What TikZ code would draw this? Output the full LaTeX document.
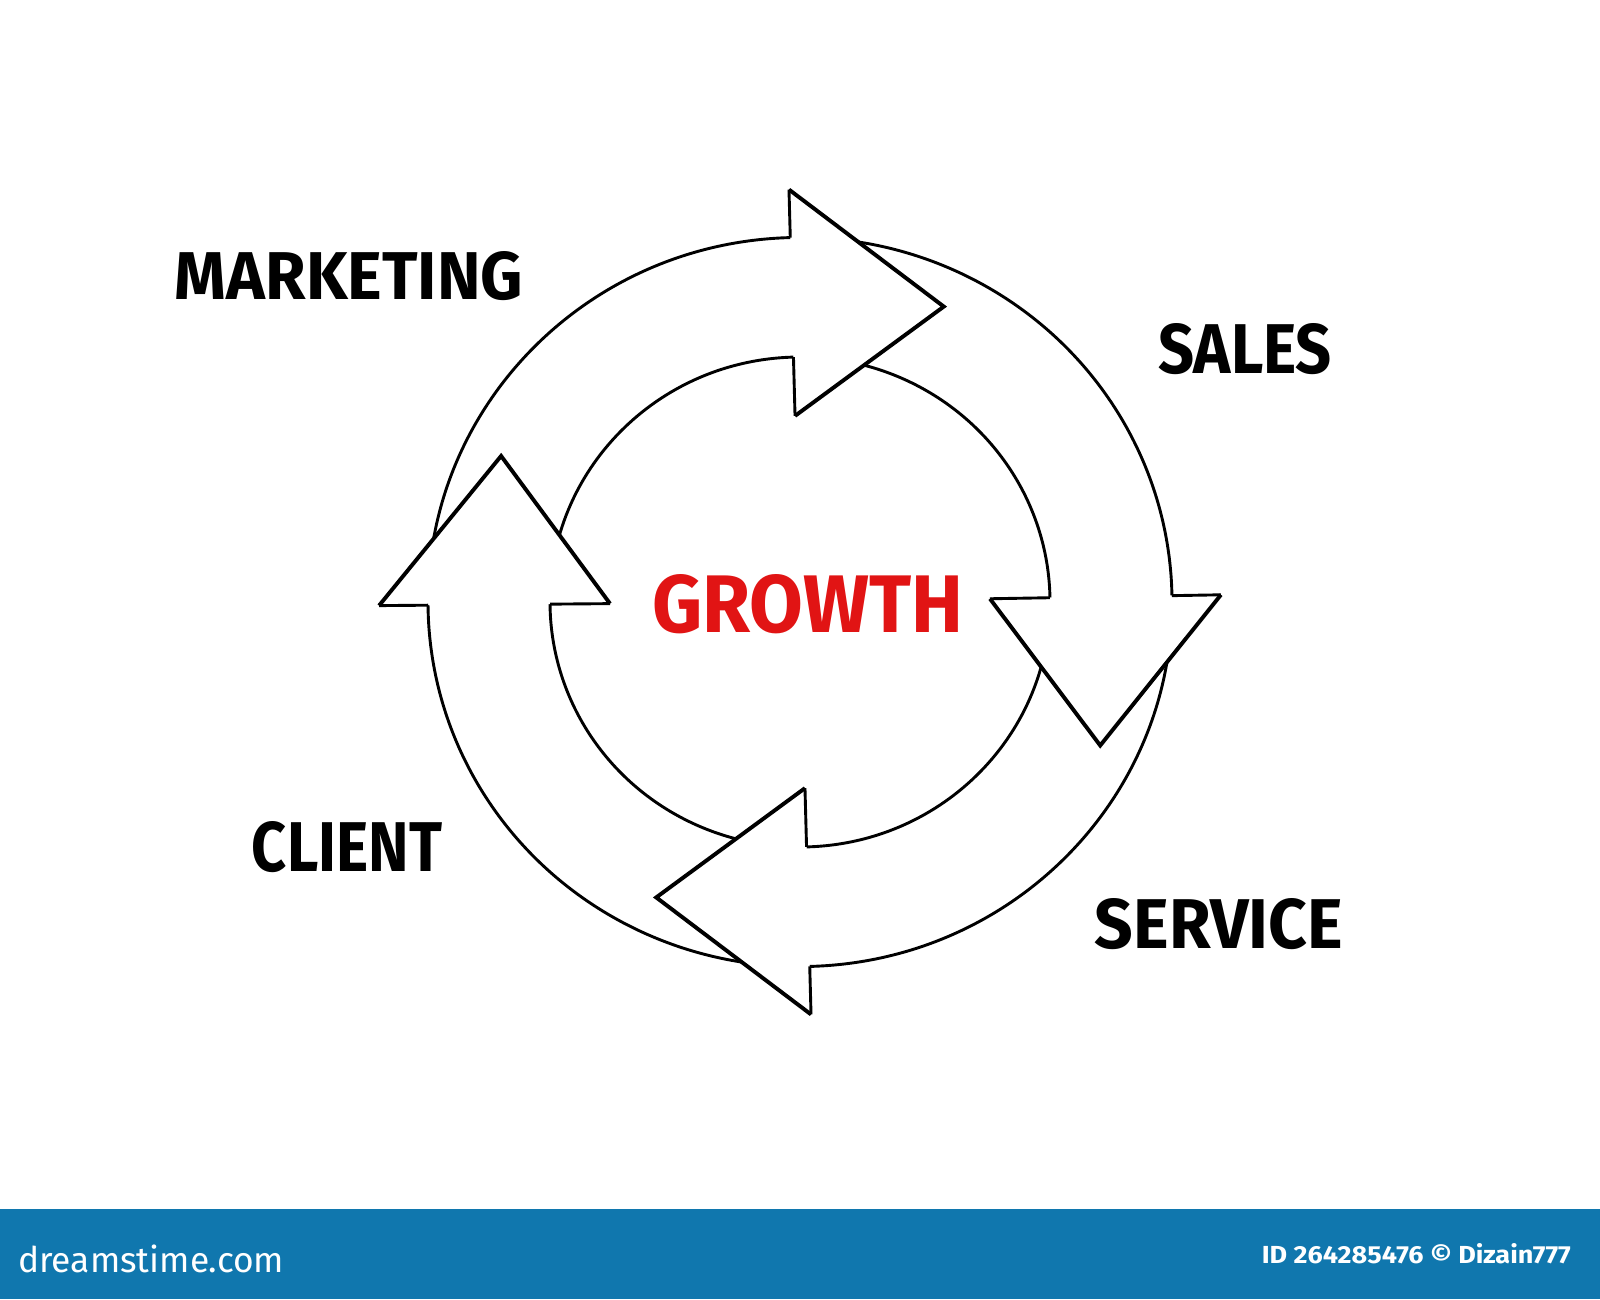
\documentclass[tikz,border=0pt]{standalone}
\usepackage{fontspec}
\setmainfont{Fira Sans}
\usepackage{graphicx}
\definecolor{barblue}{RGB}{16,119,174}
\definecolor{growthred}{RGB}{225,20,20}
\begin{document}
\begin{tikzpicture}[x=1pt,y=1pt,
  lbl/.style={inner sep=0pt, font=\bfseries},
  ringline/.style={line width=2.9pt},
  headline/.style={line width=3.9pt, line join=miter, miter limit=20},
]
\useasboundingbox (0,0) rectangle (1600,-1299);
\fill[white] (0,0) rectangle (1600,-1299);
\fill[barblue] (0,-1209) rectangle (1600,-1299);

\begin{scope}[shift={(800,-602)}, yscale=0.98]
 \def\Rin{250} \def\Rout{372} \def\Rbi{190} \def\Rbo{421} \def\Rtip{334}
 % arrow bodies
 \foreach \p/\b in {180.5/91.5, 91.5/1, 1/-88.5, -88.5/-179.5}{
   \fill[white] (\p:\Rin) arc[start angle=\p, end angle=\b, radius=\Rin]
        -- (\b:\Rout) arc[start angle=\b, end angle=\p, radius=\Rout] -- cycle;
   \draw[ringline] (\p:\Rin) arc[start angle=\p, end angle=\b, radius=\Rin];
   \draw[ringline] (\p:\Rout) arc[start angle=\p, end angle=\b, radius=\Rout];
 }
 % arrow heads
 \foreach \b in {91.5, 1, -88.5, 180.5}{
   \pgfmathsetmacro\t{\b-27}
   \fill[white] (\b:\Rbi) -- (\t:\Rtip) -- (\b:\Rbo) -- cycle;
   \draw[ringline] (\b:\Rin) -- (\b:\Rbi);
   \draw[ringline] (\b:\Rout) -- (\b:\Rbo);
   \draw[headline] (\b:\Rbi) -- (\t:\Rtip) -- (\b:\Rbo);
 }
\end{scope}

\node[lbl] (marketing) at (349,-276.5) {\resizebox{348pt}{48pt}{MARKETING}};
\node[lbl] (sales) at (1245,-349) {\resizebox{174pt}{50pt}{SALES}};
\node[lbl] (service) at (1219,-924) {\resizebox{248pt}{50pt}{SERVICE}};
\node[lbl] (client) at (347,-847) {\resizebox{190pt}{50pt}{CLIENT}};
\node[lbl, text=growthred] (growth) at (808,-604) {\resizebox{311pt}{58pt}{GROWTH}};

\node[anchor=base west, inner sep=0pt, text=white] (site) at (18,-1272) {\resizebox{266pt}{!}{dreamstime.com}};
\node[anchor=base east, inner sep=0pt, text=white, font=\bfseries] (imgid) at (1571,-1263) {\resizebox{309pt}{20pt}{ID 264285476 © Dizain777}};
\end{tikzpicture}
\end{document}
